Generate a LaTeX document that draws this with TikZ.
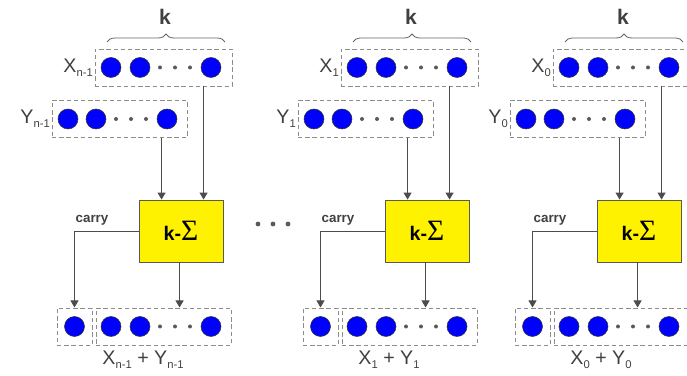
\documentclass[tikz,border=0pt]{standalone}
\usepackage{fontspec}
\setmainfont{Liberation Sans}
\newfontfamily\sumfont{Liberation Serif}
\usetikzlibrary{arrows.meta,decorations.pathreplacing,calc}
\newcommand\idx[1]{\raisebox{-0.35ex}{\fontsize{8}{8}\selectfont #1}}

\begin{document}
\begin{tikzpicture}[
    x=0.25mm, y=0.25mm,
    cell/.style={circle, draw=black!80, fill=blue, minimum size=5mm, inner sep=0pt, line width=0.4pt},
    pt/.style={circle, fill=black!65, minimum size=1mm, inner sep=0pt},
    row/.style={draw=black!45, dash pattern=on 1.1mm off 0.7mm, line width=0.7pt,
      minimum height=9.25mm, inner sep=0pt},
    adder/.style={draw=black!65, fill=yellow, line width=0.6pt, minimum width=21mm, minimum height=15.5mm},
    arr/.style={draw=black!70, line width=0.7pt, -{Triangle[width=5.7pt,length=5pt]}},
    lbl/.style={font=\fontsize{14}{16}\selectfont, text=black!75, inner sep=1pt},
    brc/.style={draw=black!60, line width=0.6pt, decorate, decoration={brace, amplitude=2mm}}
  ]
    \useasboundingbox (0,0) rectangle (687,376);
    % one k-bit adder per block
    \foreach \b/\ox/\s in {a/0/n-1, b/246/1, c/458/0} {
      \begin{scope}[shift={(\ox,0)}]
        % operand X
        \node[row, minimum width=34.25mm] (x\b) at (163.5,308.5) {};
        \node[lbl, anchor=east] (xl\b) at (x\b.west) {X\idx{\s}};
        \foreach \c in {111,140,211} \node[cell] (xc\c\b) at (\c,308.5) {};
        \foreach \d in {160,175,190} \node[pt] (xd\d\b) at (\d,308.5) {};
        \draw[brc] (107,334) -- (225,334);
        \node[font=\bfseries\fontsize{15}{16}\selectfont, text=black!75] (k\b) at (165,359) {k};
        % operand Y
        \node[row, minimum width=33.75mm] (y\b) at (119.5,257) {};
        \node[lbl, anchor=east] (yl\b) at (y\b.west) {Y\idx{\s}};
        \foreach \c in {68,96,167} \node[cell] (yc\c\b) at (\c,257) {};
        \foreach \d in {116,131,146} \node[pt] (yd\d\b) at (\d,257) {};
        % adder
        \node[adder] (s\b) at (181,145) {\bfseries\fontsize{14}{16}\selectfont k-{\sumfont\mdseries\fontsize{21}{22}\selectfont Σ}\hspace{4mm}};
        \coordinate (iy\b) at ($(s\b.north west)+(23,0)$);
        \coordinate (ix\b) at ($(s\b.north west)+(65,0)$);
        \coordinate (o\b) at ($(s\b.south west)+(41,0)$);
        \draw[arr] (y\b.south -| iy\b) -- (iy\b);
        \draw[arr] (x\b.south -| ix\b) -- (ix\b);
        % result
        \node[row, minimum width=8.75mm] (c\b) at (74.5,49.5) {};
        \node[cell] (cc\b) at (c\b) {};
        \node[row, minimum width=33.75mm] (r\b) at (163.5,49.5) {};
        \foreach \c in {111,140,211} \node[cell] (rc\c\b) at (\c,49.5) {};
        \foreach \d in {160,175,190} \node[pt] (rd\d\b) at (\d,49.5) {};
        \draw[arr] (s\b.west) -| (c\b.north);
        \node[font=\bfseries\fontsize{9.5}{10}\selectfont, text=black!75, anchor=south] (cl\b) at (92,146) {carry};
        \draw[arr] (o\b) -- (o\b |- r\b.north);
        \node[lbl] (rl\b) at (143,16) {X\idx{\s} + Y\idx{\s}};
      \end{scope}
    }
    \foreach \d in {258,273,288} \node[pt, minimum size=1.2mm] (m\d) at (\d,152) {};
  \end{tikzpicture}
\end{document}
